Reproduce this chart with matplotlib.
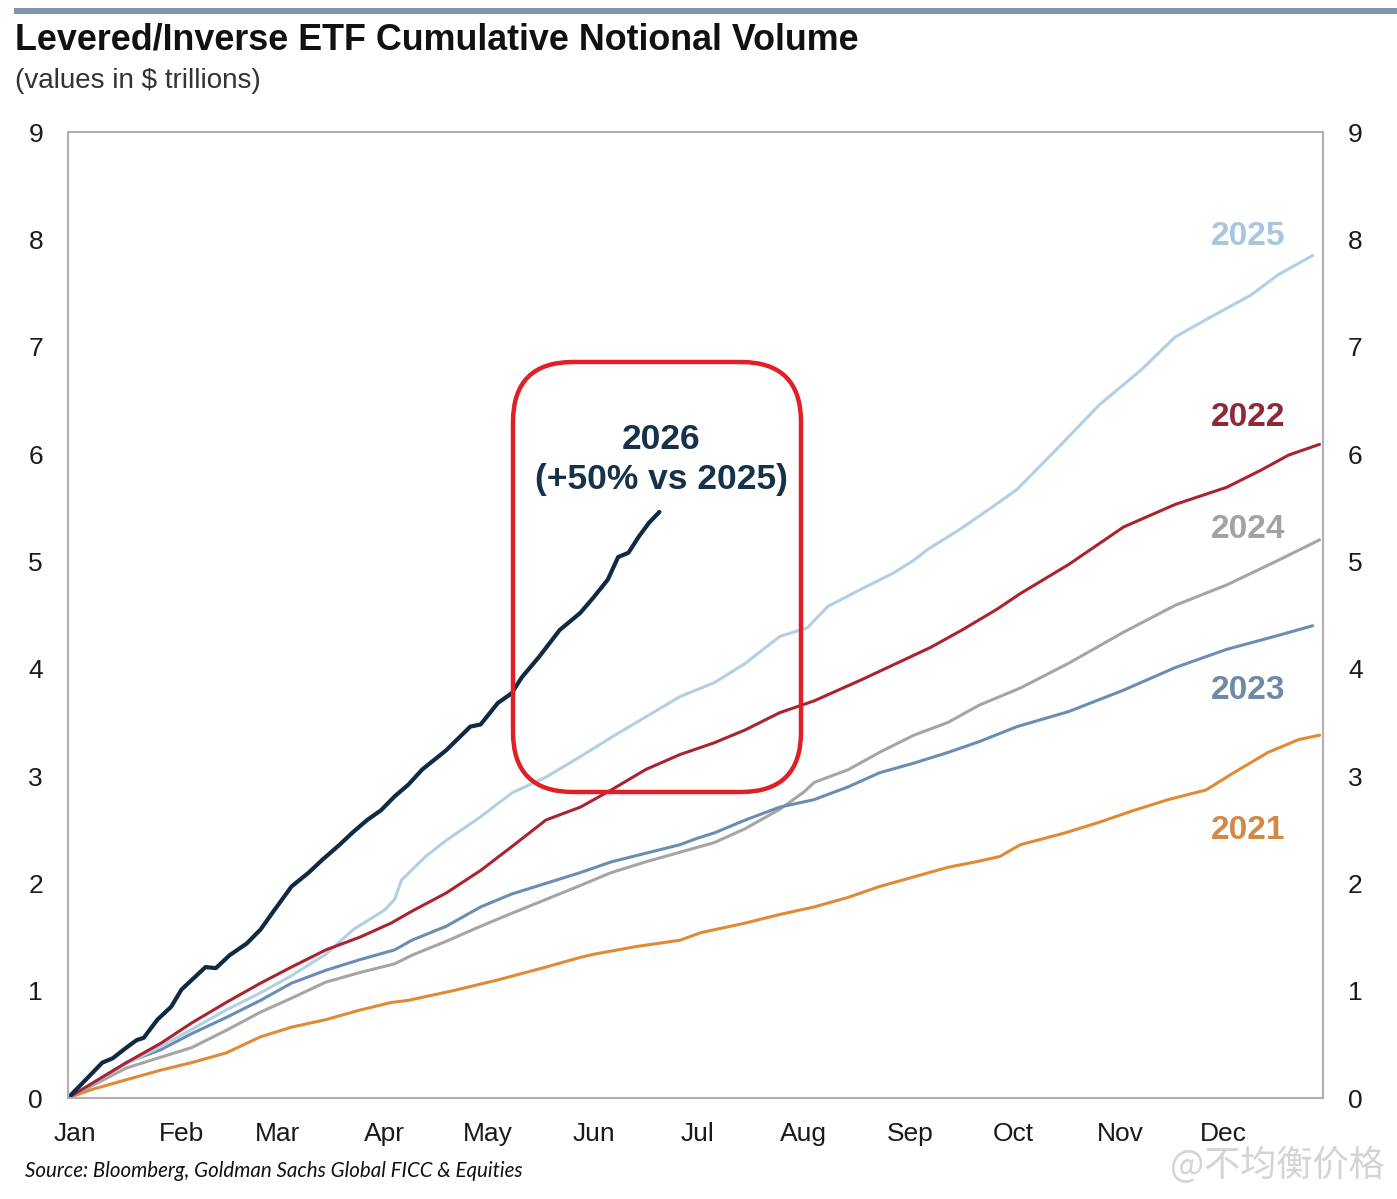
import matplotlib
matplotlib.use("Agg")
import matplotlib.pyplot as plt
from matplotlib.patches import FancyBboxPatch, Rectangle

# ---------------- data (day of year, cumulative notional $tn) ----------------
days_2021 = [0, 7, 17, 27, 36, 46, 56, 65, 75, 85, 94, 99, 112, 125, 139, 149, 153, 165, 178, 184,
             197, 207, 217, 227, 236, 246, 256, 264, 271, 277, 290, 300, 310, 320, 331, 339, 349, 358, 364]
vals_2021 = [0, 0.08, 0.17, 0.26, 0.33, 0.42, 0.57, 0.66, 0.73, 0.82, 0.89, 0.91, 1.00, 1.10, 1.22, 1.31, 1.34, 1.41, 1.47, 1.54,
             1.63, 1.71, 1.78, 1.87, 1.97, 2.06, 2.15, 2.20, 2.25, 2.36, 2.47, 2.57, 2.68, 2.78, 2.87, 3.03, 3.22, 3.34, 3.38]

days_2022 = [0, 17, 27, 36, 46, 56, 65, 75, 85, 94, 100, 110, 120, 129, 139, 149, 158, 168, 178, 188,
             197, 207, 217, 231, 241, 251, 260, 270, 277, 291, 307, 322, 337, 347, 355, 364]
vals_2022 = [0, 0.33, 0.51, 0.70, 0.89, 1.07, 1.22, 1.38, 1.50, 1.63, 1.74, 1.91, 2.12, 2.34, 2.59, 2.71, 2.87, 3.06, 3.20, 3.31,
             3.43, 3.59, 3.70, 3.90, 4.05, 4.20, 4.36, 4.55, 4.70, 4.97, 5.32, 5.53, 5.69, 5.85, 5.99, 6.09]

days_2023 = [0, 17, 27, 36, 46, 56, 65, 75, 85, 95, 100, 110, 120, 129, 139, 149, 158, 168, 178, 183, 188,
             197, 207, 217, 227, 236, 246, 256, 265, 276, 291, 307, 322, 337, 352, 362]
vals_2023 = [0, 0.33, 0.45, 0.60, 0.75, 0.91, 1.07, 1.19, 1.29, 1.38, 1.47, 1.60, 1.78, 1.90, 2.00, 2.10, 2.20, 2.28, 2.36, 2.42, 2.47,
             2.59, 2.71, 2.78, 2.90, 3.03, 3.12, 3.22, 3.32, 3.46, 3.60, 3.80, 4.01, 4.18, 4.31, 4.40]

days_2024 = [0, 17, 27, 36, 46, 56, 65, 75, 85, 95, 100, 110, 120, 129, 139, 149, 158, 168, 178, 188,
             197, 207, 214, 217, 227, 236, 246, 256, 265, 277, 291, 307, 322, 337, 352, 364]
vals_2024 = [0, 0.28, 0.38, 0.47, 0.63, 0.80, 0.93, 1.08, 1.17, 1.25, 1.33, 1.46, 1.60, 1.72, 1.85, 1.98, 2.10, 2.20, 2.29, 2.38,
             2.51, 2.69, 2.85, 2.94, 3.06, 3.22, 3.38, 3.50, 3.66, 3.82, 4.05, 4.34, 4.59, 4.78, 5.01, 5.20]

days_2025 = [0, 17, 27, 36, 46, 56, 65, 75, 83, 92, 95, 97, 104, 110, 120, 129, 139, 149, 158, 168, 178, 188,
             197, 207, 215, 221, 230, 240, 246, 250, 259, 269, 276, 288, 300, 312, 322, 332, 344, 352, 362]
vals_2025 = [0, 0.32, 0.48, 0.64, 0.82, 0.98, 1.14, 1.34, 1.57, 1.75, 1.85, 2.03, 2.25, 2.40, 2.62, 2.84, 2.99, 3.18, 3.36, 3.55, 3.74, 3.87,
             4.05, 4.30, 4.38, 4.58, 4.73, 4.89, 5.01, 5.11, 5.29, 5.51, 5.67, 6.06, 6.46, 6.78, 7.09, 7.27, 7.48, 7.67, 7.85]

days_2026 = [0, 10, 13, 17, 20, 22, 26, 30, 33, 36, 40, 43, 47, 52, 56, 60, 65, 70, 74, 79, 83, 87, 91, 95, 99,
             103, 110, 117, 120, 125, 129, 132, 137, 143, 149, 153, 157, 160, 163, 166, 169, 172]
vals_2026 = [0, 0.33, 0.37, 0.47, 0.54, 0.56, 0.73, 0.85, 1.01, 1.10, 1.22, 1.21, 1.33, 1.44, 1.57, 1.75, 1.97, 2.10, 2.22, 2.36, 2.48, 2.59, 2.68, 2.81, 2.92,
             3.06, 3.24, 3.46, 3.48, 3.68, 3.77, 3.92, 4.11, 4.36, 4.52, 4.67, 4.83, 5.04, 5.08, 5.23, 5.36, 5.46]

month_labels = ["Jan", "Feb", "Mar", "Apr", "May", "Jun", "Jul", "Aug", "Sep", "Oct", "Nov", "Dec"]
month_lengths = [31, 28, 31, 30, 31, 30, 31, 31, 30, 31, 30, 31]
y_ticks = list(range(0, 10))

series = [
    ("2021", days_2021, vals_2021, "#e08a35", 2.2),
    ("2024", days_2024, vals_2024, "#a5a5a5", 2.2),
    ("2023", days_2023, vals_2023, "#6b8db3", 2.2),
    ("2025", days_2025, vals_2025, "#b3cfe5", 2.2),
    ("2022", days_2022, vals_2022, "#a82530", 2.2),
    ("2026", days_2026, vals_2026, "#0e2a44", 3.0),
]
label_pos = {"2025": 8.03, "2022": 6.34, "2024": 5.30, "2023": 3.80, "2021": 2.49}
label_col = {"2025": "#a9c6dd", "2022": "#8e2a36", "2024": "#a3a3a3", "2023": "#6f8aa6", "2021": "#d08a45"}

# ---------------- figure ----------------
W, H = 1397, 1199
fig = plt.figure(figsize=(W / 100, H / 100), dpi=100)
fig.patch.set_facecolor("white")

ax = fig.add_axes([68 / W, (H - 1098) / H, (1323 - 68) / W, (1098 - 132) / H])
for name, d, v, c, lw in series:
    ax.plot(d, v, color=c, lw=lw, solid_joinstyle="round", solid_capstyle="round")

ax.set_xlim(0, 365)
ax.set_ylim(0, 9)
starts = [sum(month_lengths[:i]) + 2 for i in range(12)]
ax.set_xticks(starts)
ax.set_xticklabels(month_labels)
ax.set_yticks(y_ticks)
ax.tick_params(axis="both", length=0, labelsize=19, colors="#1a1a1a")
ax.tick_params(axis="x", pad=17)
ax.tick_params(axis="y", pad=18, labelright=True, right=False)
for t in ax.get_xticklabels() + ax.yaxis.get_ticklabels(which="both"):
    t.set_fontfamily("Liberation Sans")
for sp in ax.spines.values():
    sp.set_color("#b0b0b0")
    sp.set_linewidth(1.5)

for name, y in label_pos.items():
    ax.text(354, y, name, ha="right", va="center", fontsize=24, fontweight="bold",
            color=label_col[name], family="Liberation Sans")

ax.text(172.5, 5.95, "2026\n(+50% vs 2025)", ha="center", va="center", fontsize=25.5,
        fontweight="bold", color="#16324b", family="Liberation Sans", linespacing=1.25)

# red rounded box annotation (inches, isotropic)
box = FancyBboxPatch((5.13, (H - 792) / 100), 2.88, 4.30,
                     boxstyle="round,pad=0,rounding_size=0.6",
                     transform=fig.dpi_scale_trans, fill=False,
                     edgecolor="#e01f26", linewidth=3.2)
fig.patches.append(box)

# top banner bar
fig.patches.append(Rectangle((0.14, (H - 14) / 100), 14.0, 0.06,
                             transform=fig.dpi_scale_trans, color="#7f95ab", lw=0))

fig.text(15 / W, 1 - 40 / H, "Levered/Inverse ETF Cumulative Notional Volume", ha="left", va="center",
         fontsize=25.8, fontweight="bold", color="#111111", family="Liberation Sans")
fig.text(15 / W, 1 - 81 / H, "(values in $ trillions)", ha="left", va="center",
         fontsize=20, color="#333333", family="Liberation Sans")
fig.text(25 / W, 1 - 1171 / H, "Source: Bloomberg, Goldman Sachs Global FICC & Equities", ha="left",
         va="center", fontsize=14.8, style="italic", color="#111111", family="Lato")
fig.text(1385 / W, 1 - 1165 / H, "@不均衡价格", ha="right", va="center", fontsize=26,
         color="#d4d4d4", family=["Noto Sans CJK SC", "DejaVu Sans"])

fig.savefig("out.png", dpi=100, facecolor="white")
